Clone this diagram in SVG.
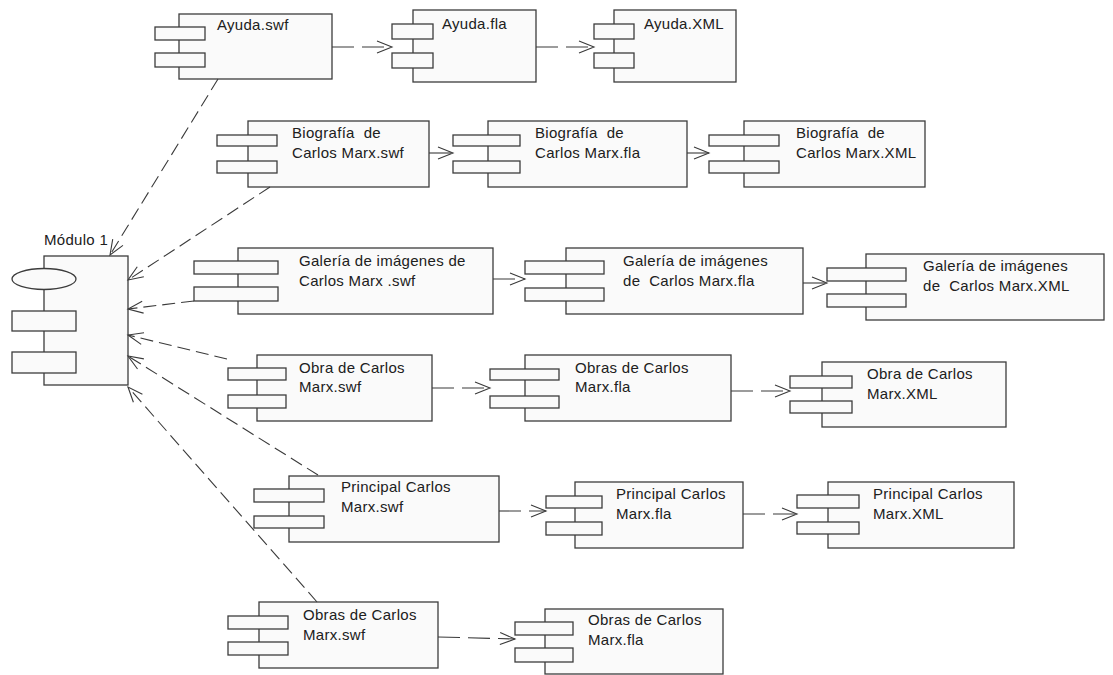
<svg xmlns="http://www.w3.org/2000/svg" width="1113" height="675" viewBox="0 0 1113 675">
  <defs>
    <style>
      .body { fill: #fafafa; stroke: #3c3c3c; stroke-width: 1.3; }
      .port { fill: #fafafa; stroke: #3c3c3c; stroke-width: 1.3; }
      .lbl { font-family: "Liberation Sans", Arial, sans-serif; font-size: 15px; letter-spacing: 0.3px; fill: #202020; white-space: pre; }
      .dep { fill: none; stroke: #3a3a3a; stroke-width: 1.1; stroke-dasharray: 13 6; marker-end: url(#open); }
      .dep-h { fill: none; stroke: #3a3a3a; stroke-width: 1.1; stroke-dasharray: 22 8; marker-end: url(#open); }
    </style>
    <marker id="open" viewBox="-16 -8 18 16" refX="0" refY="0" markerWidth="18" markerHeight="16" markerUnits="userSpaceOnUse" orient="auto">
      <path d="M-15,-6 L0,0 L-15,6" fill="none" stroke="#3a3a3a" stroke-width="1.1" stroke-dasharray="none"/>
    </marker>
  </defs>
  <rect width="1113" height="675" fill="#ffffff"/>

  <!-- Module -->
  <g id="modulo1">
    <text class="lbl" x="44" y="245">Módulo 1</text>
    <rect class="body" x="44" y="256" width="84" height="129"/>
    <ellipse class="port" cx="44" cy="279" rx="32" ry="10.5"/>
    <rect class="port" x="12" y="311" width="64" height="20"/>
    <rect class="port" x="12" y="352" width="64" height="21"/>
  </g>

  <!-- Row 1: Ayuda -->
  <g id="ayuda-swf">
    <rect class="body" x="179" y="14" width="153" height="65"/>
    <rect class="port" x="155" y="27" width="50" height="13"/>
    <rect class="port" x="155" y="53" width="50" height="14"/>
    <text class="lbl" x="217" y="30">Ayuda.swf</text>
  </g>
  <g id="ayuda-fla">
    <rect class="body" x="413" y="10" width="123" height="72"/>
    <rect class="port" x="392" y="24" width="41" height="15"/>
    <rect class="port" x="392" y="53" width="41" height="15"/>
    <text class="lbl" x="442" y="29">Ayuda.fla</text>
  </g>
  <g id="ayuda-xml">
    <rect class="body" x="614" y="10" width="122" height="72"/>
    <rect class="port" x="594" y="24" width="40" height="15"/>
    <rect class="port" x="594" y="53" width="40" height="15"/>
    <text class="lbl" x="644" y="29">Ayuda.XML</text>
  </g>

  <!-- Row 2: Biografía -->
  <g id="biografia-swf">
    <rect class="body" x="248" y="121" width="181" height="66"/>
    <rect class="port" x="217" y="135" width="60" height="11"/>
    <rect class="port" x="217" y="161" width="60" height="12"/>
    <text class="lbl" x="292" y="138">Biografía  de</text>
    <text class="lbl" x="292" y="158">Carlos Marx.swf</text>
  </g>
  <g id="biografia-fla">
    <rect class="body" x="488" y="121" width="199" height="66"/>
    <rect class="port" x="453" y="135" width="67" height="11"/>
    <rect class="port" x="453" y="161" width="67" height="12"/>
    <text class="lbl" x="535" y="138">Biografía  de</text>
    <text class="lbl" x="535" y="158">Carlos Marx.fla</text>
  </g>
  <g id="biografia-xml">
    <rect class="body" x="744" y="121" width="181" height="66"/>
    <rect class="port" x="709" y="135" width="70" height="11"/>
    <rect class="port" x="709" y="161" width="70" height="12"/>
    <text class="lbl" x="796" y="138">Biografía  de</text>
    <text class="lbl" x="796" y="158">Carlos Marx.XML</text>
  </g>

  <!-- Row 3: Galería -->
  <g id="galeria-swf">
    <rect class="body" x="238" y="248" width="255" height="66"/>
    <rect class="port" x="194" y="261" width="84" height="13"/>
    <rect class="port" x="194" y="287" width="84" height="14"/>
    <text class="lbl" x="299" y="266">Galería de imágenes de</text>
    <text class="lbl" x="299" y="286">Carlos Marx .swf</text>
  </g>
  <g id="galeria-fla">
    <rect class="body" x="566" y="248" width="237" height="66"/>
    <rect class="port" x="525" y="261" width="79" height="13"/>
    <rect class="port" x="525" y="288" width="79" height="13"/>
    <text class="lbl" x="623" y="266">Galería de imágenes</text>
    <text class="lbl" x="623" y="286">de  Carlos Marx.fla</text>
  </g>
  <g id="galeria-xml">
    <rect class="body" x="866" y="254" width="238" height="66"/>
    <rect class="port" x="827" y="268" width="79" height="13"/>
    <rect class="port" x="827" y="294" width="79" height="13"/>
    <text class="lbl" x="923" y="271">Galería de imágenes</text>
    <text class="lbl" x="923" y="291">de  Carlos Marx.XML</text>
  </g>

  <!-- Row 4: Obra -->
  <g id="obra-swf">
    <rect class="body" x="257" y="355" width="175" height="66"/>
    <rect class="port" x="228" y="368" width="58" height="12"/>
    <rect class="port" x="228" y="395" width="58" height="13"/>
    <text class="lbl" x="299" y="373">Obra de Carlos</text>
    <text class="lbl" x="299" y="392">Marx.swf</text>
  </g>
  <g id="obras-fla">
    <rect class="body" x="525" y="355" width="206" height="66"/>
    <rect class="port" x="490" y="369" width="69" height="11"/>
    <rect class="port" x="490" y="396" width="69" height="12"/>
    <text class="lbl" x="575" y="373">Obras de Carlos</text>
    <text class="lbl" x="575" y="392">Marx.fla</text>
  </g>
  <g id="obra-xml">
    <rect class="body" x="822" y="362" width="184" height="65"/>
    <rect class="port" x="790" y="376" width="62" height="12"/>
    <rect class="port" x="790" y="401" width="62" height="12"/>
    <text class="lbl" x="867" y="379">Obra de Carlos</text>
    <text class="lbl" x="867" y="399">Marx.XML</text>
  </g>

  <!-- Row 5: Principal -->
  <g id="principal-swf">
    <rect class="body" x="289" y="476" width="210" height="66"/>
    <rect class="port" x="254" y="489" width="70" height="13"/>
    <rect class="port" x="254" y="516" width="70" height="12"/>
    <text class="lbl" x="341" y="492">Principal Carlos</text>
    <text class="lbl" x="341" y="512">Marx.swf</text>
  </g>
  <g id="principal-fla">
    <rect class="body" x="575" y="482" width="168" height="66"/>
    <rect class="port" x="546" y="496" width="56" height="12"/>
    <rect class="port" x="546" y="522" width="56" height="13"/>
    <text class="lbl" x="616" y="499">Principal Carlos</text>
    <text class="lbl" x="616" y="519">Marx.fla</text>
  </g>
  <g id="principal-xml">
    <rect class="body" x="828" y="482" width="186" height="66"/>
    <rect class="port" x="797" y="495" width="62" height="13"/>
    <rect class="port" x="797" y="522" width="62" height="12"/>
    <text class="lbl" x="873" y="499">Principal Carlos</text>
    <text class="lbl" x="873" y="519">Marx.XML</text>
  </g>

  <!-- Row 6: Obras -->
  <g id="obras-swf">
    <rect class="body" x="259" y="602" width="179" height="66"/>
    <rect class="port" x="228" y="616" width="60" height="13"/>
    <rect class="port" x="228" y="642" width="60" height="13"/>
    <text class="lbl" x="303" y="620">Obras de Carlos</text>
    <text class="lbl" x="303" y="640">Marx.swf</text>
  </g>
  <g id="obras-fla-2">
    <rect class="body" x="545" y="609" width="178" height="65"/>
    <rect class="port" x="515" y="622" width="58" height="13"/>
    <rect class="port" x="515" y="648" width="58" height="14"/>
    <text class="lbl" x="588" y="625">Obras de Carlos</text>
    <text class="lbl" x="588" y="645">Marx.fla</text>
  </g>

  <!-- Dependencies -->
  <g id="connectors">
    <path class="dep-h" d="M332,47 L392,47"/>
    <path class="dep-h" d="M536,47 L594,47"/>
    <path class="dep-h" d="M429,153 L453,153"/>
    <path class="dep-h" d="M687,153 L709,153"/>
    <path class="dep-h" d="M493,279 L525,279"/>
    <path class="dep-h" d="M803,283 L827,283"/>
    <path class="dep-h" d="M432,388 L490,388"/>
    <path class="dep-h" d="M731,391 L790,391"/>
    <path class="dep-h" d="M499,511 L546,511"/>
    <path class="dep-h" d="M743,514 L797,514"/>
    <path class="dep-h" d="M438,637 L515,639"/>

    <path class="dep" d="M218,79 L110,255"/>
    <path class="dep" d="M270,187 L128,280"/>
    <path class="dep" d="M194,301 L128,309"/>
    <path class="dep" d="M227,359 L128,335"/>
    <path class="dep" d="M318,475 L128,356"/>
    <path class="dep" d="M317,602 L128,387"/>
  </g>
</svg>
